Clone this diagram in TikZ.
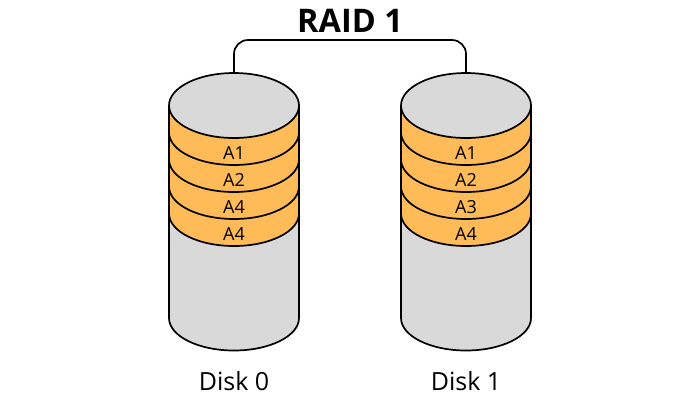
\documentclass[tikz,border=0pt]{standalone}
\usepackage{fontspec}
\setmainfont{Open Sans}
\usepackage{xcolor}
\usetikzlibrary{calc,positioning}
\definecolor{diskgray}{RGB}{217,217,217}
\definecolor{stripe}{RGB}{255,187,87}

\begin{document}
\begin{tikzpicture}[x=1pt,y=-1pt,
    outline/.style={line width=1.7pt, black},
    blocklabel/.style={font=\fontsize{18}{18}\selectfont, anchor=base},
    disklabel/.style={font=\fontsize{25}{25}\selectfont, anchor=base}]
        \useasboundingbox (0,0) rectangle (700,400);
        % Title
        \node[anchor=base, font=\bfseries\fontsize{32.5}{32.5}\selectfont] (title) at (350,32) {RAID 1};
        % Define coordinates (top of each disk)
        \coordinate (d0top) at (234,73);
        \coordinate (d1top) at (466,73);
        % Mirror link between the disks
        \draw[outline, rounded corners=14pt] (d0top) -- ++(0,-33) -| (d1top);
        % Draw the disks
        \foreach \cx/\dname/\dlab/\ba/\bb/\bc/\bd in
            {234/d0/Disk 0/A1/A2/A4/A4, 466/d1/Disk 1/A1/A2/A3/A4}{
          % body and stripes
          \fill[diskgray] (\cx-65,105.5) -- (\cx-65,318)
              arc[start angle=180, end angle=360, x radius=65pt, y radius=32.5pt]
              -- (\cx+65,105.5) -- cycle;
          \fill[stripe] (\cx-65,105.5) -- (\cx-65,213.5)
              arc[start angle=180, end angle=360, x radius=65pt, y radius=32.5pt]
              -- (\cx+65,105.5) -- cycle;
          \draw[outline] (\cx-65,105.5) -- (\cx-65,318)
              arc[start angle=180, end angle=360, x radius=65pt, y radius=32.5pt]
              -- (\cx+65,105.5);
          \foreach \yy in {132.5,159.5,186.5,213.5}
            \draw[outline] (\cx-65,\yy)
              arc[start angle=180, end angle=360, x radius=65pt, y radius=32.5pt];
          % top
          \draw[outline, fill=diskgray] (\cx,105.5) ellipse [x radius=65pt, y radius=32.5pt];
          % labels
          \node[blocklabel] (\dname-b1) at (\cx,159) {\ba};
          \node[blocklabel] (\dname-b2) at (\cx,186) {\bb};
          \node[blocklabel] (\dname-b3) at (\cx,213) {\bc};
          \node[blocklabel] (\dname-b4) at (\cx,240) {\bd};
          \node[disklabel] (\dname-name) at (\cx,390) {\dlab};
        }
      \end{tikzpicture}
\end{document}
